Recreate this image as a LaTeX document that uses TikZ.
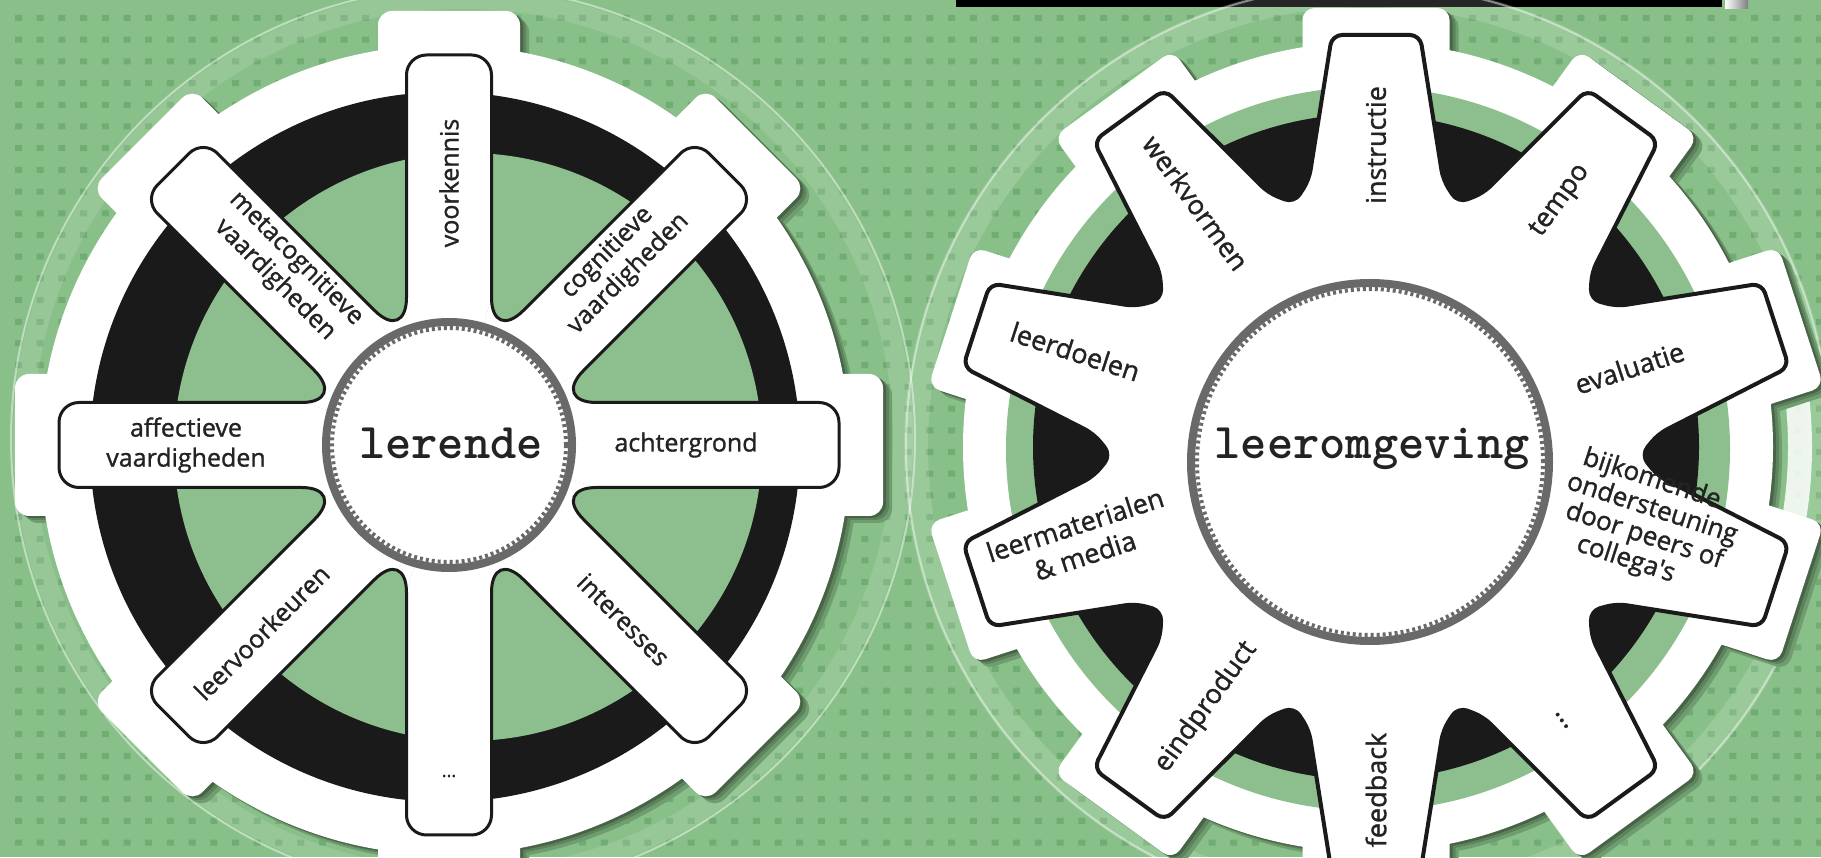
\documentclass[tikz,border=0pt]{standalone}
\usepackage{fontspec}
\setmainfont{Open Sans}
\newfontfamily\lblfont{Open Sans}[FakeBold=1.2]
\usetikzlibrary{calc}
\definecolor{bgg}{RGB}{137,192,137}
\definecolor{dotg}{RGB}{113,172,115}
\definecolor{ing}{RGB}{141,190,141}
\definecolor{ringgray}{RGB}{105,105,105}
\definecolor{blk}{RGB}{26,26,26}
\definecolor{txt}{RGB}{35,35,35}
\tikzset{
  spokeline/.style={draw=blk, line width=1.5pt, line cap=round, line join=round},
  gearline/.style={draw=blk, line width=2pt, line join=round},
  lbl/.style={font=\lblfont\fontsize{12.5}{15}\selectfont, text=txt, align=center, inner sep=0pt},
  glbl/.style={font=\lblfont\fontsize{13.5}{16}\selectfont, text=txt, align=center, inner sep=0pt},
  hublbl/.style={font=\ttfamily\bfseries\fontsize{25}{27}\selectfont, text=txt, inner sep=0pt},
}
\begin{document}
\begin{tikzpicture}[x=0.5pt,y=0.5pt]
\useasboundingbox (0,0) rectangle (1821,857);
\fill[bgg] (0,0) rectangle (1821,857);
\fill[dotg] \foreach \i in {0,...,83}{\foreach \j in {0,...,39}{({15+21.7*\i},{836-21.7*\j}) rectangle ++(7,6)}};
% top bar
\fill[black] (956,850) rectangle (1722,857);
\shade[left color=white, right color=gray] (1725,848) rectangle (1748,857);

\coordinate (C1) at (449,412);
\coordinate (G) at (1376,402);

% ================= left wheel =================
\begin{scope}[shift={(449,412)}]
  \draw[white, opacity=0.12, line width=10pt] (14,6) circle (440);
  \draw[white, opacity=0.45, line width=1pt] (14,6) circle (452);
  \foreach \sx/\sy/\c in {9/-7/bgg!82!black, 6/-4/bgg!68!black, 3/-2/bgg!52!black, 0/0/white}{
    \begin{scope}[shift={(\sx,\sy)}]
      \fill[\c] (-4,-5) circle (405);
      \foreach \a in {0,45,...,315}
        \fill[\c, rotate=\a, rounded corners=7pt] (300,-71) rectangle (434,71);
    \end{scope}
  }
  \fill[blk] (-4,-2) circle (355);
  \fill[ing] (19,-2) circle (294);
  \foreach \a in {0,45,...,315}{
    \fill[white, rotate=\a] (0,0) -- (147.6,-42.5) -- (370,-42.5)
      .. controls (381.05,-42.5) and (390,-33.55) .. (390,-22.5) -- (390,22.5)
      .. controls (390,33.55) and (381.05,42.5) .. (370,42.5) -- (147.6,42.5)
      .. controls (122.85,42.5) and (116.9,56.8) .. (134.4,74.3) -- cycle;
  }
  \foreach \a in {0,45,...,315}{
    \draw[spokeline, rotate=\a] (147.6,-42.5) -- (370,-42.5)
      .. controls (381.05,-42.5) and (390,-33.55) .. (390,-22.5) -- (390,22.5)
      .. controls (390,33.55) and (381.05,42.5) .. (370,42.5) -- (147.6,42.5)
      .. controls (122.85,42.5) and (116.9,56.8) .. (134.4,74.3);
  }
  \fill[white] (0,0) circle (127);
  \draw[ringgray, line width=4pt] (0,0) circle (123);
  \draw[ringgray, line width=2pt, dash pattern=on 1.5pt off 1.5pt] (0,0) circle (117);
  \node[hublbl] (lerende) at (2,2) {lerende};
  \node[lbl, rotate=90] (voorkennis) at (90:262) {voorkennis};
  \node[lbl, rotate=45] (cognitieve) at (47:248) {cognitieve\\vaardigheden};
  \node[lbl] (achtergrond) at (0:237) {achtergrond};
  \node[lbl, rotate=-45] (interesses) at (-45:247) {interesses};
  \node[lbl, font=\lblfont\fontsize{9}{10}\selectfont] (dotsL) at (-90:331) {...};
  \node[lbl, rotate=45] (leervoorkeuren) at (225:265) {leervoorkeuren};
  \node[lbl] (affectieve) at (180:263) {affectieve\\vaardigheden};
  \node[lbl, rotate=-45] (metacognitieve) at (133:240) {metacognitieve\\vaardigheden};
\end{scope}

% ================= right gear =================
\begin{scope}[shift={(1376,402)}]
  \draw[white, opacity=0.15, line width=12pt] (-8,8) circle (452);
  \draw[white, opacity=0.45, line width=1pt] (-8,8) circle (462);
  \draw[white, opacity=0.85, line width=12pt] (-8,8) ++(-14:432) arc[start angle=-14, end angle=14, radius=432];
  \foreach \sx/\sy/\c in {9/-7/bgg!82!black, 6/-4/bgg!68!black, 3/-2/bgg!52!black, 0/0/white}{
    \begin{scope}[shift={(\sx,\sy)}]
      \fill[\c] (-8,8) circle (405);
      \foreach \a in {90,126,...,414}
        \fill[\c, rotate=\a, rounded corners=6pt] (330,-73.5) rectangle (447,73.5);
    \end{scope}
  }
  \fill[ing] (-8,6) circle (362);
  \fill[blk] (-10,8) circle (333);
  \filldraw[fill=white, gearline, rounded corners=5pt] (90:420) -- (95.98:422.3) -- (103.7:283) -- (108:265)
     \foreach \t in {126,162,...,414}{ -- ({\t-13.7}:283) -- ({\t-5.98}:422.3) -- ({\t+5.98}:422.3) -- ({\t+13.7}:283) -- ({\t+18}:265)}
     -- (76.3:283) -- (84.02:422.3) -- cycle;
  \fill[white] (-6,-7) circle (183);
  \draw[ringgray, line width=4pt] (-6,-7) circle (179);
  \draw[ringgray, line width=2pt, dash pattern=on 1.5pt off 1.5pt] (-6,-7) circle (173);
  \node[hublbl] (leeromgeving) at (-4,6) {leeromgeving};
  \node[glbl, rotate=90] (instructie) at (90:310) {instructie};
  \node[glbl, rotate=54] (tempo) at (54:314) {tempo};
  \node[glbl, rotate=18] (evaluatie) at (19:268) {evaluatie};
  \node[glbl, rotate=-18, align=left, font=\lblfont\fontsize{13}{12.5}\selectfont] (bijkomende) at (-14:280) {\hspace*{0.3em}bijkomende\\ondersteuning\\\hspace*{0.3em}door peers of\\\hspace*{1.1em}collega's};
  \node[glbl, rotate=-54] (dotsR) at (-55:324) {...};
  \node[glbl, rotate=90] (feedback) at (-90:335) {feedback};
  \node[glbl, rotate=54] (eindproduct) at (-124:304) {eindproduct};
  \node[glbl, rotate=18] (leermaterialen) at (-164:308) {leermaterialen\\\& media};
  \node[glbl, rotate=-18] (leerdoelen) at (161:318) {leerdoelen};
  \node[glbl, rotate=-54] (werkvormen) at (125.5:310) {werkvormen};
\end{scope}
\end{tikzpicture}
\end{document}
